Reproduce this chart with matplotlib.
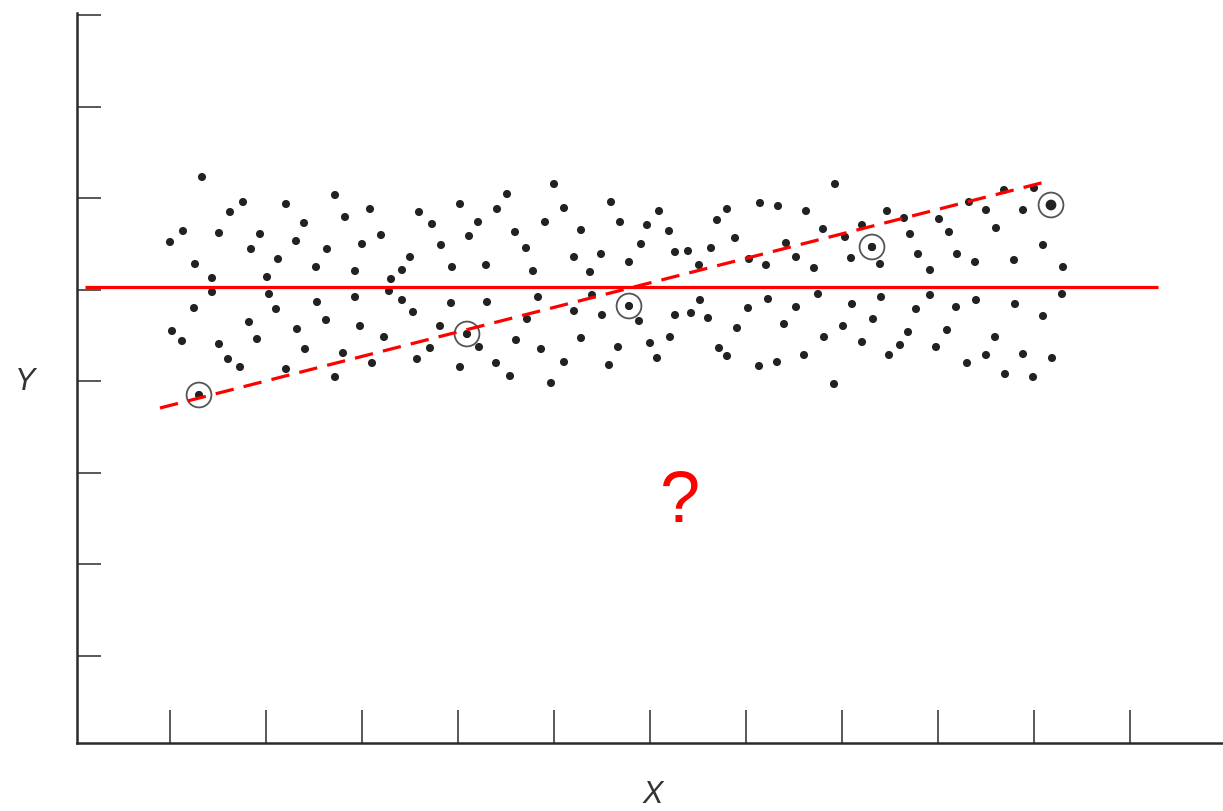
import matplotlib
matplotlib.use("Agg")
import matplotlib.pyplot as plt
import numpy as np

x_pts = [125, 166, 153, 209, 258, 268, 227, 106, 142, 183, 93, 219, 174, 250, 201, 118, 239,
         135, 190, 135, 192, 117, 199, 240, 172, 249, 95, 220, 105, 142, 180, 228, 266, 151,
         163, 209, 258, 122,
         293, 342, 383, 430, 420, 355, 401, 304, 285, 364, 392, 438, 449, 333, 325, 278, 375,
         409, 456, 314, 312, 278, 325, 461, 374, 410, 336, 283, 363, 450, 307, 390, 402, 439,
         353, 295, 340, 383, 419, 433, 464,
         477, 534, 487, 582, 650, 468, 543, 570, 504, 592, 640, 564, 497, 524, 598, 611, 634,
         552, 622, 513, 515, 497, 525, 552, 562, 598, 614, 623, 631, 504, 541, 573, 593, 642,
         650, 487, 532, 580, 474,
         758, 683, 701, 729, 810, 827, 658, 746, 785, 768, 833, 709, 795, 672, 689, 719, 737,
         774, 803, 841, 741, 691, 671, 719, 775, 804, 839, 660, 707, 766, 796, 747, 785, 831,
         823, 727, 812, 682, 700, 757,
         927, 957, 974, 892, 909, 946, 862, 872, 919, 966, 880, 898, 937, 853, 986, 853, 985,
         899, 879, 938, 966, 870, 918, 859, 909, 946, 975, 890, 928, 956]
y_pts = [566, 541, 531, 539, 548, 526, 520, 512, 510, 509, 501, 502, 494, 494, 484, 479, 476,
         465, 466, 451, 449, 435, 434, 441, 421, 423, 412, 414, 402, 399, 404, 394, 390, 384,
         376, 374, 366, 348,
         534, 531, 539, 549, 534, 519, 521, 508, 499, 498, 507, 511, 495, 486, 473, 472, 476,
         478, 472, 464, 452, 446, 443, 446, 440, 441, 431, 417, 417, 424, 406, 409, 396, 403,
         395, 380, 384, 376, 380, 367, 394,
         559, 541, 535, 532, 534, 521, 521, 518, 513, 512, 523, 499, 486, 489, 491, 492, 495,
         481, 478, 471, 448, 432, 428, 437, 422, 428, 430, 443, 425, 405, 396, 400, 406, 395,
         387, 381, 378, 385, 360,
         559, 540, 537, 532, 532, 525, 505, 514, 518, 506, 509, 500, 496, 484, 478, 486, 475,
         485, 479, 489, 449, 444, 435, 436, 439, 446, 434, 415, 419, 417, 424, 406, 401, 411,
         398, 388, 388, 377, 381, 359,
         553, 555, 538, 541, 533, 533, 524, 511, 515, 498, 489, 481, 483, 473, 476, 448, 449,
         443, 436, 439, 427, 413, 406, 396, 388, 389, 385, 380, 369, 366]

# the five circled observations
circ_x = [122, 390, 552, 795, 974]
circ_y = [348, 409, 437, 496, 538]

# overall mean (solid) and the misleading trend through the circled points (dashed)
mean_x = [8, 1081]
mean_y = [456, 456]
trend_x = [83, 968]
trend_y = [335, 561]

xticks = np.arange(93, 1100, 96)
yticks = np.linspace(87, 728, 8)

ink = '#2b2b2b'
red = '#ff0000'

fig = plt.figure(figsize=(12.23, 8.11), dpi=100)
ax = fig.add_axes([77/1223, 68/811, 1146/1223, 730/811])
ax.set_xlim(0, 1146)
ax.set_ylim(0, 730)

for s in ['top', 'right']:
    ax.spines[s].set_visible(False)
for s in ['left', 'bottom']:
    ax.spines[s].set_color(ink)
    ax.spines[s].set_linewidth(1.8)

ax.set_xticks(xticks)
ax.set_yticks(yticks)
ax.set_xticklabels([])
ax.set_yticklabels([])
ax.tick_params(axis='x', direction='in', length=24, width=1.1, color=ink)
ax.tick_params(axis='y', direction='in', length=17, width=1.1, color=ink)

ax.scatter(x_pts, y_pts, s=34, color='#222222', edgecolors='none', zorder=3)
# inner dots of the circled points, the last one a little heavier
dot_sizes = [30, 30, 30, 34, 60]
ax.scatter(circ_x, circ_y, s=dot_sizes, color='#222222', edgecolors='none', zorder=3)
ax.scatter(circ_x, circ_y, s=320, facecolors='none', edgecolors='#555555',
           linewidths=1.3, zorder=3)

ax.plot(mean_x, mean_y, color=red, lw=2.3, solid_capstyle='butt', zorder=4)
ax.plot(trend_x, trend_y, color=red, lw=2.3, dashes=(5.8, 3.2), zorder=4)

ax.text(603, 240, '?', color=red, fontsize=52, family='Liberation Sans',
        ha='center', va='center')

ax.set_ylabel('Y', rotation=0, fontsize=22, style='italic', color='#333333',
              family='Liberation Sans', ha='center', va='center')
ax.yaxis.set_label_coords(-0.045, 0.494)
ax.set_xlabel('X', fontsize=22, style='italic', color='#333333',
              family='Liberation Sans', ha='center', va='center')
ax.xaxis.set_label_coords(0.502, -0.071)

fig.savefig('out.png', dpi=100)
